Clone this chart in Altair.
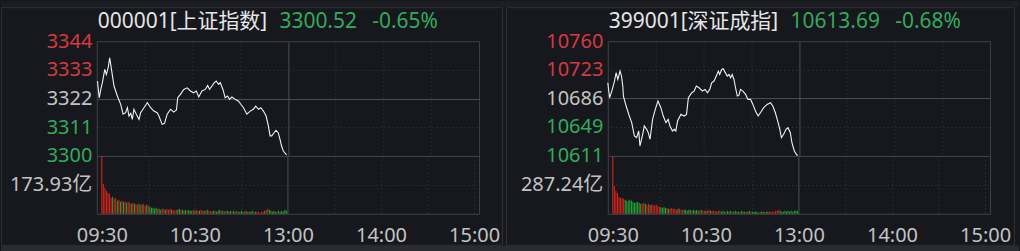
import altair as alt
import pandas as pd

FONT = "Noto Sans, Noto Sans CJK SC"

# ---------------- data ----------------
TIME_TICKS = [0, 30, 60, 90, 120, 150, 180, 210, 240]          # minutes since 09:30
TIME_LABEL_AT = [0, 60, 120, 180, 240]
TIME_LABEL_TXT = ["09:30", "10:30", "13:00", "14:00", "15:00"]
BREAK_MIN = 120

L_CODE, L_PRICE, L_CHG = "000001[上证指数]", "3300.52", "-0.65%"
L_TICKS = [3300, 3311, 3322, 3333, 3344]
L_PREV = 3322
L_VOL_MID = 173.93
L_VOL_TXT = "173.93亿"
L_MIN = [0.4, 1.5, 2.5, 3.5, 5.0, 6.0, 7.1, 8.1, 9.2, 10.8,
         12.9, 15.0, 16.5, 18.1, 19.2, 20.2, 21.3, 22.3, 23.3, 24.8,
         26.5, 27.5, 29.6, 31.7, 33.8, 35.8, 37.9, 39.0, 41.0, 42.5,
         44.2, 46.3, 48.3, 50.0, 50.8, 52.5, 54.6, 56.7, 58.8, 60.8,
         62.5, 64.0, 66.0, 68.1, 69.6, 70.8, 72.3, 73.8, 75.0, 76.5,
         77.5, 79.2, 80.6, 82.1, 83.3, 84.8, 86.9, 89.0, 90.4, 92.1,
         94.2, 96.3, 98.3, 99.8, 101.5, 103.0, 104.6, 106.3, 107.7, 108.8,
         109.8, 111.3, 112.5, 113.9, 115.0, 116.0, 117.1, 118.8, 119.3]
L_VAL = [3328.7, 3322.3, 3325.5, 3328.1, 3333.2, 3331.2, 3333.8, 3337.6, 3333.2, 3326.8,
         3323.0, 3319.8, 3316.0, 3316.6, 3318.5, 3315.3, 3316.3, 3314.0, 3317.9, 3316.0,
         3314.0, 3316.6, 3318.5, 3320.4, 3318.5, 3317.2, 3316.6, 3315.3, 3312.1, 3312.5,
         3316.0, 3317.9, 3316.8, 3317.6, 3322.3, 3323.6, 3325.5, 3326.1, 3324.9, 3324.2,
         3324.9, 3322.6, 3324.9, 3325.5, 3327.0, 3325.5, 3326.8, 3328.1, 3328.7, 3327.4,
         3328.1, 3325.5, 3322.3, 3323.0, 3321.7, 3322.6, 3321.7, 3321.0, 3319.8, 3318.5,
         3316.0, 3317.2, 3317.9, 3319.1, 3317.9, 3318.5, 3317.2, 3315.3, 3311.5, 3307.7,
         3307.7, 3308.9, 3309.8, 3308.9, 3306.4, 3303.8, 3301.9, 3300.6, 3300.5]
L_VOL = [348, 180, 156, 138, 126, 120, 96, 102, 90, 96,
         78, 84, 72, 78, 72, 72, 66, 72, 66, 60,
         66, 60, 60, 54, 60, 54, 54, 60, 48, 54,
         48, 42, 36, 36, 30, 36, 30, 30, 24, 30,
         30, 24, 30, 24, 30, 24, 24, 18, 24, 24,
         30, 24, 24, 18, 24, 18, 24, 18, 18, 24,
         18, 24, 18, 18, 24, 18, 18, 18, 24, 18,
         18, 12, 18, 18, 12, 18, 24, 18, 18, 12,
         18, 18, 12, 18, 12, 18, 12, 18, 12, 12,
         18, 12, 12, 18, 12, 12, 12, 18, 12, 12,
         12, 12, 6, 12, 12, 18, 24, 30, 24, 18,
         12, 18, 12, 12, 18, 12, 18, 12, 24, 18]
L_DIR = list("rrrrrr" "rgrrgrgrgr" "grrgrgrrgrgrrgr" "gggggrgg" "rrgrrrgrrr"
             "ggrgggrgggrg" "rrgrrgrgrr" "ggrgggrggrgggrggrggg" "grgrgggrgr"
             "rrrrgrr" "gggggrgggggg")

R_CODE, R_PRICE, R_CHG = "399001[深证成指]", "10613.69", "-0.68%"
R_TICKS = [10611, 10649, 10686, 10723, 10760]
R_PREV = 10686
R_VOL_MID = 287.24
R_VOL_TXT = "287.24亿"
R_MIN = [0.0, 1.1, 2.5, 4.2, 5.2, 6.3, 7.7, 8.6, 9.4, 9.8,
         11.5, 13.5, 15.0, 16.7, 18.1, 19.4, 20.2, 21.9, 22.9, 24.4,
         25.4, 26.5, 28.1, 29.8, 31.5, 33.3, 34.8, 36.5, 37.9, 39.0,
         40.6, 41.7, 42.7, 43.8, 45.9, 47.9, 49.4, 50.6, 52.7, 54.2,
         55.6, 57.3, 59.4, 61.1, 62.5, 64.0, 65.2, 66.7, 68.1, 69.4,
         70.2, 71.5, 72.5, 73.6, 75.0, 76.1, 77.1, 78.1, 79.2, 80.2,
         81.3, 82.3, 83.3, 84.8, 86.5, 88.0, 89.6, 91.1, 92.7, 94.4,
         95.8, 97.9, 100.0, 102.1, 103.6, 105.2, 106.7, 108.0, 109.0, 110.4,
         111.9, 113.1, 114.6, 115.6, 117.1, 118.8, 119.3]
R_VAL = [10706.0, 10686.6, 10695.2, 10708.2, 10719.0, 10710.3, 10721.1, 10714.7, 10701.7, 10688.7,
         10675.8, 10662.8, 10654.2, 10636.9, 10634.7, 10643.4, 10624.0, 10639.1, 10649.9, 10645.5,
         10641.2, 10632.6, 10658.5, 10671.5, 10682.3, 10673.6, 10662.8, 10654.2, 10658.5, 10649.9,
         10643.4, 10645.5, 10643.4, 10656.3, 10665.0, 10662.8, 10665.0, 10686.6, 10693.1, 10695.2,
         10701.7, 10699.5, 10695.2, 10697.4, 10693.1, 10697.4, 10706.0, 10708.2, 10714.7, 10721.1,
         10716.8, 10723.3, 10724.2, 10719.8, 10714.7, 10716.8, 10712.5, 10716.8, 10710.3, 10699.5,
         10688.7, 10689.6, 10697.4, 10695.2, 10690.9, 10684.4, 10684.4, 10677.9, 10669.3, 10662.8,
         10667.1, 10673.6, 10677.9, 10680.1, 10675.8, 10667.1, 10656.3, 10645.5, 10634.7, 10639.1,
         10645.5, 10647.7, 10641.2, 10628.3, 10617.5, 10611.9, 10612.5]
R_VOL = [574, 277, 228, 208, 168, 158, 158, 149, 139, 129,
         129, 139, 129, 119, 109, 109, 119, 109, 99, 99,
         109, 99, 89, 99, 89, 89, 89, 79, 89, 79,
         69, 69, 59, 69, 59, 59, 50, 50, 59, 50,
         50, 40, 50, 50, 40, 40, 40, 40, 30, 40,
         40, 30, 40, 30, 40, 30, 30, 40, 30, 30,
         30, 30, 40, 30, 30, 30, 30, 20, 30, 30,
         20, 30, 20, 20, 30, 20, 30, 20, 20, 30,
         20, 20, 20, 30, 20, 20, 20, 20, 30, 20,
         20, 20, 20, 20, 10, 20, 20, 20, 20, 20,
         20, 20, 20, 20, 20, 30, 30, 40, 30, 20,
         20, 30, 20, 30, 20, 30, 20, 30, 30, 30]
R_DIR = list("rrrrrrrr" "ggggggggggg" "rrgrrgr" "rrrrr" "ggggrg" "rrrrrgrrr"
             "gggggrgggg" "rgrrgrrgrrrgrrg" "ggrgggrggggrgggrggrgggggrggrgg"
             "rrrrrrr" "gggggggggggg")

# ---------------- style ----------------
BG = "#16181d"
FRAME = "#3e4146"
GRID = "#383b41"
MIDGRID = "#4c4f55"
PANEL = "#2e3035"
RED_LBL = "#d43a40"
GREEN_LBL = "#33aa5c"
GRAY_LBL = "#c3c3c3"
WHITE = "#e6e6e6"
RED_BAR = "#d9261c"
GREEN_BAR = "#25a83a"
LINE = "#f2f2f2"

W, H_PRICE, H_VOL = 383, 115, 58

x_scale = alt.Scale(domain=[TIME_TICKS[0], TIME_TICKS[-1]], nice=False, zero=False)
x_grid_dash = {"condition": {"test": f"datum.value == {BREAK_MIN}", "value": []}, "value": [1, 3]}
x_grid_color = {"condition": {"test": f"datum.value == {BREAK_MIN}", "value": MIDGRID}, "value": GRID}
time_expr = " : ".join(f"datum.value == {m} ? '{t}'" for m, t in zip(TIME_LABEL_AT, TIME_LABEL_TXT)) + " : ''"


def one(text, color, size, dx):
    return alt.Chart(pd.DataFrame({"t": [text]})).mark_text(
        align="left", baseline="middle", font=FONT, fontSize=size, color=color
    ).encode(x=alt.value(dx), y=alt.value(-19), text="t:N")


def rect(x1, x2, y1, y2, **kw):
    return alt.Chart(pd.DataFrame({"a": [0]})).mark_rect(**kw).encode(
        x=alt.value(x1), x2=alt.value(x2), y=alt.value(y1), y2=alt.value(y2))


def price_chart(code, price, chg, price_dx, chg_dx, mins, vals, ticks, prev, frame_x, first):
    df = pd.DataFrame({"m": mins, "v": vals})
    yax = alt.Axis(
        values=ticks, title=None, labelPadding=5, format="d",
        labelColor={"condition": [
            {"test": f"datum.value > {prev}", "value": RED_LBL},
            {"test": f"datum.value < {prev}", "value": GREEN_LBL}], "value": GRAY_LBL},
        gridDash={"condition": {"test": f"datum.value == {prev}", "value": []}, "value": [1, 3]},
        gridColor={"condition": {"test": f"datum.value == {prev}", "value": MIDGRID}, "value": GRID},
    )
    xax = alt.Axis(values=TIME_TICKS, labels=False, title=None,
                   gridDash=x_grid_dash, gridColor=x_grid_color)
    line = alt.Chart(df).mark_line(color=LINE, strokeWidth=1.1).encode(
        x=alt.X("m:Q", scale=x_scale, axis=xax),
        y=alt.Y("v:Q", scale=alt.Scale(domain=[ticks[0], ticks[-1]], nice=False, zero=False), axis=yax),
    )
    layers = []
    if first:
        layers.append(rect(-96, 924, -40, -34, color="#1c1e23"))
    layers.append(rect(frame_x[0], frame_x[1], -33.5, 204.5, filled=False, stroke=PANEL, strokeWidth=1))
    layers += [line, one(code, WHITE, 21, 1), one(price, GREEN_LBL, 21, price_dx), one(chg, GREEN_LBL, 21, chg_dx)]
    return alt.layer(*layers).properties(width=W, height=H_PRICE)


def vol_chart(vols, dirs, vol_mid, vol_txt, first):
    df = pd.DataFrame({"m": list(range(len(vols))), "vol": vols, "d": dirs})
    xax = alt.Axis(values=TIME_TICKS, title=None, labelExpr=time_expr, labelFlush=False,
                   labelPadding=12, labelColor=GRAY_LBL, gridDash=x_grid_dash, gridColor=x_grid_color)
    yax = alt.Axis(values=[vol_mid], title=None, labelExpr=f"'{vol_txt}'", labelPadding=5,
                   labelColor=GRAY_LBL, gridDash=[1, 3], gridColor=GRID)
    bars = alt.Chart(df).mark_bar(size=1).encode(
        x=alt.X("m:Q", scale=x_scale, axis=xax),
        y=alt.Y("vol:Q", scale=alt.Scale(domain=[0, 2 * vol_mid], nice=False), axis=yax),
        color=alt.Color("d:N", scale=alt.Scale(domain=["r", "g"], range=[RED_BAR, GREEN_BAR]), legend=None),
    )
    layers = [bars]
    if first:
        layers.append(rect(-96, 924, 90, 96, color="#2a2c31"))
    return alt.layer(*layers).properties(width=W, height=H_VOL)


pL = price_chart(L_CODE, L_PRICE, L_CHG, 183, 276, L_MIN, L_VAL, L_TICKS, L_PREV, (-95.5, 406.5), True)
pR = price_chart(R_CODE, R_PRICE, R_CHG, 183, 288, R_MIN, R_VAL, R_TICKS, R_PREV, (-101.5, 407.5), False)
vL = vol_chart(L_VOL, L_DIR, L_VOL_MID, L_VOL_TXT, True)
vR = vol_chart(R_VOL, R_DIR, R_VOL_MID, R_VOL_TXT, False)

chart = alt.concat(
    pL, pR, vL, vR, columns=2, spacing={"row": 0, "column": 129}, bounds="flush"
).resolve_scale(
    x="independent", y="independent", color="independent"
).properties(
    background=BG, padding=0
).configure_view(
    stroke=FRAME, strokeWidth=1
).configure_axis(
    domain=False, ticks=False, labelFont=FONT, labelFontSize=20, labelOverlap=False, gridWidth=1
)

chart.save("out.html", embed_options={"renderer": "svg", "actions": False})
